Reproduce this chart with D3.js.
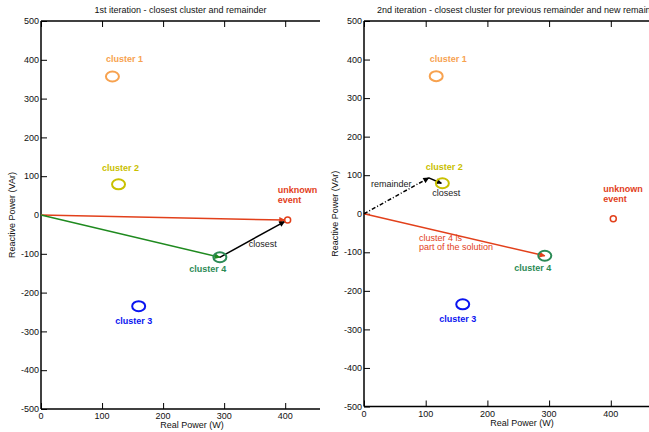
<!DOCTYPE html>
<html><head><meta charset="utf-8">
<script src="https://cdn.jsdelivr.net/npm/d3@7"></script>
<style>body{margin:0;background:#fff}svg{display:block;font-family:"Liberation Sans",Arial,sans-serif}</style>
</head><body><svg id="c" width="649" height="432"></svg>
<script>
const clusterNames = ["cluster 1","cluster 2","cluster 3","cluster 4"];
const clusterP = [117, 127, 160, 293];
const clusterQ = [357, 79, -235, -109];
const eventP = 404, eventQ = -13;
const remainderP = 105, remainderQ = 93;
const xTicks = [0,100,200,300,400];
const yTicks = [-500,-400,-300,-200,-100,0,100,200,300,400,500];
const titles = ["1st iteration - closest cluster and remainder",
  "2nd iteration - closest cluster for previous remainder and new remainder"];

const colors = ["#f7a24f","#c9c000","#0a14f0","#2b8a55"];
const red = "#e2401b", green = "#1f8a1f";
const labelOff = [[12,-14],[2,-13],[-5,18],[-12,15]];

const svg = d3.select("#c");
const defs = svg.append("defs");
function marker(id,col){
  defs.append("marker").attr("id",id).attr("viewBox","0 0 10 10").attr("refX",9).attr("refY",5)
    .attr("markerWidth",7).attr("markerHeight",6).attr("markerUnits","userSpaceOnUse").attr("orient","auto")
    .append("path").attr("d","M0,0L10,5L0,10z").attr("fill",col);
}
marker("ar",red); marker("ag",green); marker("ak","#000");

function panel(x0,x1,xmax,y0,y1,title,titleX,titleAnchor,xlabX,iter){
  const x = d3.scaleLinear().domain([0,xmax]).range([x0,x1]);
  const y = d3.scaleLinear().domain([-500,500]).range([y1,y0]);
  const g = svg.append("g");
  g.append("text").attr("x",titleX).attr("y",12.5).attr("text-anchor",titleAnchor)
    .attr("font-size",9).attr("fill","#111").text(title);
  // frame lines
  g.append("line").attr("x1",x0).attr("x2",x1).attr("y1",y0).attr("y2",y0).attr("stroke","#000").attr("stroke-width",1.5);
  g.append("line").attr("x1",x0).attr("x2",x1).attr("y1",y1).attr("y2",y1).attr("stroke","#000").attr("stroke-width",1.5);
  g.append("line").attr("x1",x0).attr("x2",x0).attr("y1",y0).attr("y2",y1).attr("stroke","#000").attr("stroke-width",1.5);
  // y axis
  const ya = g.append("g").attr("transform",`translate(${x0},0)`)
    .call(d3.axisRight(y).tickValues(yTicks).tickSize(6).tickFormat(""));
  ya.select(".domain").remove();
  ya.selectAll("line").attr("stroke-width",1);
  g.selectAll(".yl").data(yTicks).join("text").attr("x",x0-2).attr("y",d=>y(d)).attr("dy","0.35em")
    .attr("text-anchor","end").attr("font-size",9).attr("fill","#111").text(d=>d);
  // x axis bottom
  const xa = g.append("g").attr("transform",`translate(0,${y1})`)
    .call(d3.axisTop(x).tickValues(xTicks).tickSize(6).tickFormat(""));
  xa.select(".domain").remove(); xa.selectAll("line").attr("stroke-width",1);
  const xt = g.append("g").attr("transform",`translate(0,${y0})`)
    .call(d3.axisBottom(x).tickValues(xTicks).tickSize(6).tickFormat(""));
  xt.select(".domain").remove(); xt.selectAll("line").attr("stroke-width",1);
  g.selectAll(".xl").data(xTicks).join("text").attr("x",d=>x(d)).attr("y",y1+10)
    .attr("text-anchor","middle").attr("font-size",9).attr("fill","#111").text(d=>d);
  g.append("text").attr("x",xlabX).attr("y",y1+19).attr("text-anchor","middle").attr("font-size",9).attr("fill","#111").text("Real Power (W)");
  g.append("text").attr("transform",`translate(${x0-26},${y(0)}) rotate(-90)`).attr("text-anchor","middle")
    .attr("font-size",9).attr("fill","#111").text("Reactive Power (VAr)");

  // lines
  if(iter===1){
    g.append("line").attr("x1",x(0)).attr("y1",y(0)).attr("x2",x(eventP)-3).attr("y2",y(eventQ))
      .attr("stroke",red).attr("stroke-width",1.5).attr("marker-end","url(#ar)");
    g.append("line").attr("x1",x(0)).attr("y1",y(0)).attr("x2",x(clusterP[3])).attr("y2",y(clusterQ[3]))
      .attr("stroke",green).attr("stroke-width",1.5).attr("marker-end","url(#ag)");
    g.append("line").attr("x1",x(clusterP[3])).attr("y1",y(clusterQ[3])).attr("x2",x(eventP)-3).attr("y2",y(eventQ)+1.5)
      .attr("stroke","#000").attr("stroke-width",1.5).attr("marker-end","url(#ak)");
    g.append("text").attr("x",x(clusterP[3])+43).attr("y",y(clusterQ[3])-10).attr("text-anchor","middle")
      .attr("font-size",9).attr("fill","#222").text("closest");
  } else {
    g.append("line").attr("x1",x(0)).attr("y1",y(0)).attr("x2",x(clusterP[3])).attr("y2",y(clusterQ[3]))
      .attr("stroke",red).attr("stroke-width",1.5).attr("marker-end","url(#ar)");
    g.append("line").attr("x1",x(0)).attr("y1",y(0)).attr("x2",x(remainderP)).attr("y2",y(remainderQ))
      .attr("stroke","#000").attr("stroke-width",1.5).attr("stroke-dasharray","4,2,1,2").attr("marker-end","url(#ak)");
    g.append("line").attr("x1",x(remainderP)).attr("y1",y(remainderQ)).attr("x2",x(clusterP[1])-1).attr("y2",y(clusterQ[1]))
      .attr("stroke","#000").attr("stroke-width",1.5).attr("marker-end","url(#ak)");
    g.append("text").attr("x",x(0)+7).attr("y",y(0)-27).attr("font-size",9).attr("fill","#222").text("remainder");
    g.append("text").attr("x",x(clusterP[1])+4).attr("y",y(clusterQ[1])+12.5).attr("text-anchor","middle")
      .attr("font-size",9).attr("fill","#222").text("closest");
    const t = g.append("text").attr("font-size",9).attr("fill",red);
    t.append("tspan").attr("x",x(0)+55).attr("y",y(0)+27).text("cluster 4 is");
    t.append("tspan").attr("x",x(0)+55).attr("y",y(0)+36.5).text("part of the solution");
  }
  // clusters
  clusterNames.forEach((n,i)=>{
    g.append("ellipse").attr("cx",x(clusterP[i])).attr("cy",y(clusterQ[i])).attr("rx",6.5).attr("ry",5)
      .attr("fill","none").attr("stroke",colors[i]).attr("stroke-width",2);
    g.append("text").attr("x",x(clusterP[i])+labelOff[i][0]).attr("y",y(clusterQ[i])+labelOff[i][1])
      .attr("text-anchor","middle").attr("font-size",9).attr("font-weight","bold").attr("fill",colors[i]).text(n);
  });
  g.append("circle").attr("cx",x(eventP)).attr("cy",y(eventQ)).attr("r",3)
    .attr("fill","none").attr("stroke",red).attr("stroke-width",1.5);
  const u = g.append("text").attr("font-size",9).attr("font-weight","bold").attr("fill",red);
  u.append("tspan").attr("x",x(eventP)-10).attr("y",y(eventQ)-27).text("unknown");
  u.append("tspan").attr("x",x(eventP)-10).attr("y",y(eventQ)-17).text("event");
}
panel(41,320,457,21,409,titles[0],180.5,"middle",192,1);
panel(364,654,470,21,406.5,titles[1],377,"start",522,2);
</script></body></html>
